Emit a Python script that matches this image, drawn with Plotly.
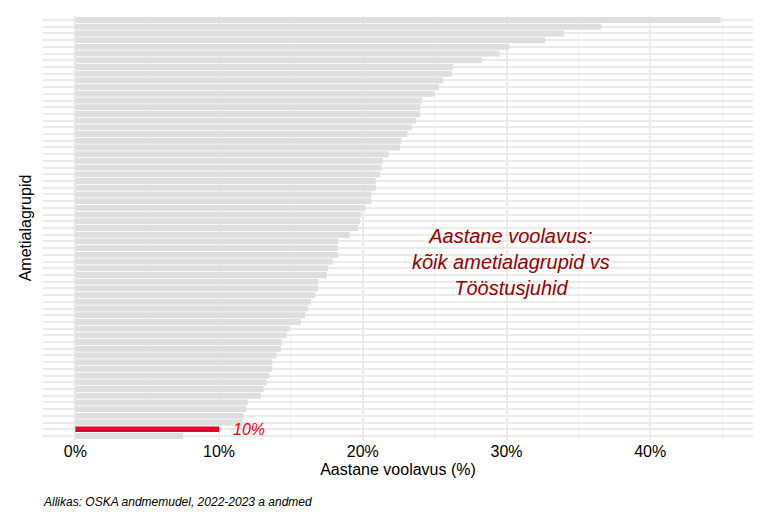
import plotly.graph_objects as go

values = [44.9, 36.6, 34.0, 32.7, 30.2, 29.5, 28.3, 26.3, 26.2, 25.6, 25.3, 25.0,
          24.1, 24.0, 24.0, 23.7, 23.4, 23.1, 22.7, 22.6, 21.8, 21.4, 21.3, 21.2,
          20.9, 20.9, 20.6, 20.6, 20.2, 19.9, 19.8, 19.7, 19.1, 18.3, 18.3, 18.3,
          17.9, 17.6, 17.5, 16.9, 16.9, 16.7, 16.4, 16.2, 16.0, 15.7, 14.9, 14.7,
          14.4, 14.3, 14.0, 13.7, 13.7, 13.5, 13.3, 13.1, 12.9, 12.0, 11.9, 11.7,
          11.6, 10.0, 7.5]
highlight_index = 61
highlight_label = "10%"
x_ticks = [0, 10, 20, 30, 40]
x_tick_labels = ["0%", "10%", "20%", "30%", "40%"]

n = len(values)
ypos = [n - 1 - i for i in range(n)]
grey_x = [v for i, v in enumerate(values) if i != highlight_index]
grey_y = [y for i, y in enumerate(ypos) if i != highlight_index]

fig = go.Figure()
fig.add_trace(go.Bar(x=grey_x, y=grey_y, orientation="h", marker_color="#DEDEDE",
                     marker_line_width=0, width=0.88, hoverinfo="skip"))
fig.add_trace(go.Bar(x=[values[highlight_index]], y=[ypos[highlight_index]], orientation="h",
                     marker_color="#E4002B", marker_line_width=0, width=0.8, hoverinfo="skip"))
fig.add_annotation(x=values[highlight_index] + 0.8, y=ypos[highlight_index], text=highlight_label,
                   showarrow=False, xanchor="left",
                   font=dict(family="Liberation Sans", size=16, color="#FF0000", style="italic"))
fig.add_annotation(x=30.3, y=ypos[36], text="Aastane voolavus:<br>kõik ametialagrupid vs<br>Tööstusjuhid",
                   showarrow=False, align="center", xanchor="center", yanchor="middle",
                   font=dict(family="Liberation Sans", size=20, color="#990000", style="italic"))
fig.add_annotation(x=0, y=0, xref="paper", yref="paper", xshift=-2, yshift=-62, xanchor="left",
                   yanchor="middle",
                   text="Allikas: OSKA andmemudel, 2022-2023 a andmed", showarrow=False,
                   font=dict(family="Liberation Sans", size=12, color="#000000", style="italic"))
fig.update_layout(
    width=768, height=512, showlegend=False, barmode="overlay",
    paper_bgcolor="white", plot_bgcolor="white",
    margin=dict(l=35, r=23, t=8, b=80, autoexpand=False),
    font=dict(family="Liberation Sans", color="#000000"),
)
fig.update_xaxes(range=[-2.25, 47.15], tickvals=x_ticks, ticktext=x_tick_labels,
                 showgrid=True, gridcolor="#EBEBEB", gridwidth=2, zeroline=False,
                 minor=dict(dtick=5, showgrid=True, gridcolor="#F2F2F2", gridwidth=1),
                 tickfont=dict(size=16), ticks="", automargin=False,
                 title=dict(text="Aastane voolavus (%)", font=dict(size=16), standoff=4))
fig.update_yaxes(range=[-0.6, n - 0.4], tickvals=list(range(n)), showticklabels=False,
                 showgrid=True, gridcolor="#EBEBEB", gridwidth=2, zeroline=False, ticks="",
                 automargin=False,
                 title=dict(text="Ametialagrupid", font=dict(size=16), standoff=6))
fig.write_html("out.html")
